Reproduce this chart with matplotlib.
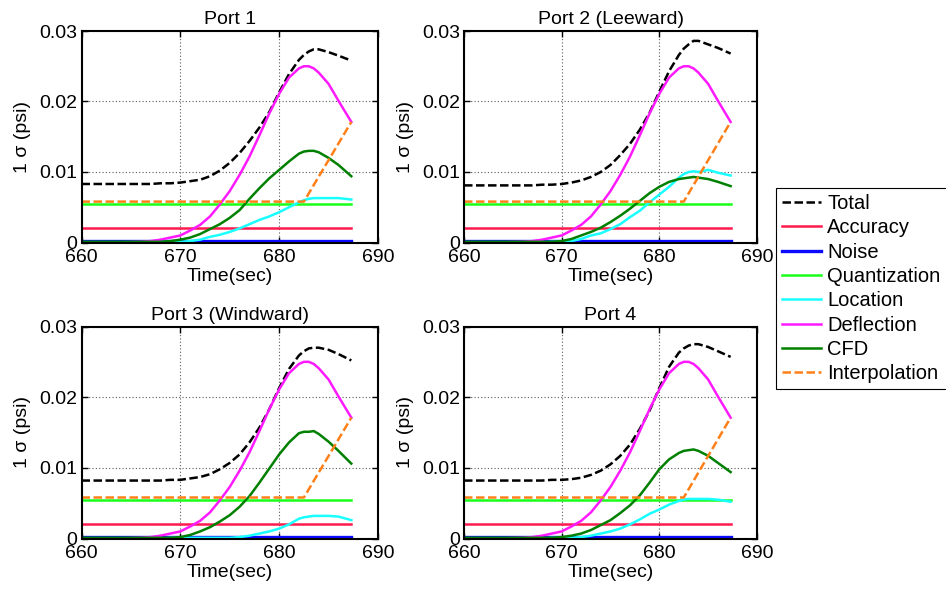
#!/usr/bin/env python3
"""
1-sigma pressure uncertainty budget for four ports, 660-690 s.
"""

import matplotlib
matplotlib.use("Agg")
import matplotlib.pyplot as plt

# ============== DATA ==============
TIME = [660, 662, 664, 666, 667, 668, 669, 670, 671, 672, 673, 674, 675, 676,
        677, 678, 679, 680, 681, 682, 682.5, 683, 683.5, 684, 685, 686, 687.3]

DEFLECTION = [0.0, 0.0, 0.00003, 0.0001, 0.0002, 0.0004, 0.0007, 0.0010, 0.0017, 0.0025,
              0.0037, 0.0054, 0.0073, 0.0096, 0.0122, 0.0152, 0.0183, 0.0211, 0.0234,
              0.0247, 0.0250, 0.0250, 0.0247, 0.0241, 0.0225, 0.0201, 0.0171]

TOTAL_1 = [0.0083, 0.0083, 0.0083, 0.0083, 0.0083, 0.0084, 0.0084, 0.0085, 0.0087, 0.0089,
           0.0094, 0.0102, 0.0113, 0.0127, 0.0144, 0.0163, 0.0185, 0.0213, 0.0239,
           0.0259, 0.0266, 0.0271, 0.0274, 0.0274, 0.0270, 0.0265, 0.0258]
TOTAL_2 = [0.0081, 0.0081, 0.0081, 0.0081, 0.0081, 0.0082, 0.0082, 0.0083, 0.0085, 0.0088,
           0.0093, 0.0100, 0.0110, 0.0124, 0.0140, 0.0160, 0.0184, 0.0214, 0.0243,
           0.0266, 0.0275, 0.0281, 0.0286, 0.0286, 0.0281, 0.0276, 0.0268]
TOTAL_3 = [0.0082, 0.0082, 0.0082, 0.0082, 0.0082, 0.0082, 0.0083, 0.0083, 0.0085, 0.0087,
           0.0091, 0.0098, 0.0107, 0.0119, 0.0136, 0.0157, 0.0183, 0.0213, 0.0240,
           0.0259, 0.0265, 0.0269, 0.0270, 0.0270, 0.0267, 0.0261, 0.0252]
TOTAL_4 = [0.0082, 0.0082, 0.0082, 0.0082, 0.0082, 0.0082, 0.0083, 0.0083, 0.0084, 0.0086,
           0.0090, 0.0096, 0.0105, 0.0117, 0.0133, 0.0155, 0.0181, 0.0213, 0.0243,
           0.0263, 0.0269, 0.0273, 0.0275, 0.0275, 0.0271, 0.0265, 0.0257]

CFD_1 = [0.0001, 0.0001, 0.0001, 0.0001, 0.0001, 0.0001, 0.0002, 0.0004, 0.0007, 0.0012,
         0.0019, 0.0026, 0.0035, 0.0046, 0.0062, 0.0077, 0.0091, 0.0103, 0.0115,
         0.0126, 0.0129, 0.0130, 0.0130, 0.0128, 0.0120, 0.0110, 0.0094]
CFD_2 = [0.0001, 0.0001, 0.0001, 0.0001, 0.0001, 0.0001, 0.0001, 0.0002, 0.0005, 0.0010,
         0.0015, 0.0021, 0.0029, 0.0038, 0.0048, 0.0059, 0.0070, 0.0079, 0.0086,
         0.0090, 0.0091, 0.0092, 0.0093, 0.0092, 0.0090, 0.0086, 0.0080]
CFD_3 = [0.0001, 0.0001, 0.0001, 0.0001, 0.0001, 0.0001, 0.0001, 0.0002, 0.0005, 0.0010,
         0.0016, 0.0024, 0.0033, 0.0045, 0.0060, 0.0079, 0.0099, 0.0119, 0.0136,
         0.0149, 0.0151, 0.0151, 0.0152, 0.0148, 0.0137, 0.0124, 0.0106]
CFD_4 = [0.0001, 0.0001, 0.0001, 0.0001, 0.0001, 0.0001, 0.0001, 0.0002, 0.0004, 0.0007,
         0.0012, 0.0019, 0.0026, 0.0036, 0.0047, 0.0061, 0.0079, 0.0098, 0.0112,
         0.0121, 0.0124, 0.0125, 0.0126, 0.0124, 0.0117, 0.0107, 0.0094]

LOCATION_1 = [0.0, 0.0, 0.0, 0.0, 0.0, 0.0001, 0.0001, 0.0001, 0.0002, 0.0004,
              0.0008, 0.0011, 0.0015, 0.0020, 0.0026, 0.0032, 0.0037, 0.0043, 0.0050,
              0.0057, 0.0060, 0.0062, 0.0063, 0.0063, 0.0063, 0.0063, 0.0061]
LOCATION_2 = [0.0, 0.0, 0.0, 0.0, 0.0, 0.0, 0.0001, 0.0001, 0.0002, 0.0005,
              0.0010, 0.0013, 0.0019, 0.0026, 0.0036, 0.0045, 0.0057, 0.0068, 0.0079,
              0.0092, 0.0097, 0.0100, 0.0101, 0.0100, 0.0103, 0.0099, 0.0095]
LOCATION_3 = [0.0, 0.0, 0.0, 0.0, 0.0, 0.0, 0.0001, 0.0001, 0.0001, 0.0001,
              0.0001, 0.0001, 0.0001, 0.0002, 0.0004, 0.0007, 0.0010, 0.0014, 0.0020,
              0.0028, 0.0030, 0.0031, 0.0032, 0.0032, 0.0032, 0.0031, 0.0026]
LOCATION_4 = [0.0, 0.0, 0.0, 0.0, 0.0, 0.0, 0.0001, 0.0001, 0.0001, 0.0002,
              0.0004, 0.0007, 0.0010, 0.0014, 0.0020, 0.0027, 0.0035, 0.0041, 0.0048,
              0.0053, 0.0055, 0.0056, 0.0056, 0.0056, 0.0056, 0.0055, 0.0052]

# constant terms (same for every port)
CONST_TIME = [660, 687.3]
ACCURACY = [0.002, 0.002]
NOISE = [0.0002, 0.0002]
QUANTIZATION = [0.0055, 0.0055]

INTERP_TIME = [660, 682.5, 687.3]
INTERPOLATION = [0.0058, 0.0058, 0.0171]

TITLES = ["Port 1", "Port 2 (Leeward)", "Port 3 (Windward)", "Port 4"]
TOTALS = [TOTAL_1, TOTAL_2, TOTAL_3, TOTAL_4]
CFDS = [CFD_1, CFD_2, CFD_3, CFD_4]
LOCATIONS = [LOCATION_1, LOCATION_2, LOCATION_3, LOCATION_4]

LABELS = ["Total", "Accuracy", "Noise", "Quantization", "Location",
          "Deflection", "CFD", "Interpolation"]
X_TICKS = [660, 670, 680, 690]
Y_TICKS = [0, 0.01, 0.02, 0.03]
Y_TICKLABELS = ["0", "0.01", "0.02", "0.03"]

# ============== STYLE ==============
plt.rcParams['font.family'] = ['Liberation Sans', 'DejaVu Sans']
FS = 14
FS_LEG = 14.5
LW = 1.8
DASH = (3.4, 1.4)

C_TOTAL = 'black'
C_ACC = '#ff1a4d'
C_NOISE = '#0a0aff'
C_QUANT = '#1aff1a'
C_LOC = '#1affff'
C_DEFL = '#ff1aff'
C_CFD = '#008000'
C_INTERP = '#ff8019'

W, H = 946, 591
# axes boxes in pixels: left, top, right, bottom
AX_PX = [(81.5, 31, 378, 242.5), (464, 31, 757, 242.5),
         (81.5, 326.5, 378, 538.5), (464, 326.5, 757, 538.5)]


def draw_panel(ax, title, total, cfd, location):
    """One port: all error terms vs time."""
    handles = []
    h, = ax.plot(TIME, total, color=C_TOTAL, lw=LW, dashes=DASH)
    handles.append(h)
    h, = ax.plot(CONST_TIME, ACCURACY, color=C_ACC, lw=LW)
    handles.append(h)
    h, = ax.plot(CONST_TIME, NOISE, color=C_NOISE, lw=LW + 0.6)
    handles.append(h)
    h, = ax.plot(CONST_TIME, QUANTIZATION, color=C_QUANT, lw=LW)
    handles.append(h)
    h, = ax.plot(TIME, location, color=C_LOC, lw=LW)
    handles.append(h)
    h, = ax.plot(TIME, DEFLECTION, color=C_DEFL, lw=LW)
    handles.append(h)
    h, = ax.plot(TIME, cfd, color=C_CFD, lw=LW)
    handles.append(h)
    h, = ax.plot(INTERP_TIME, INTERPOLATION, color=C_INTERP, lw=LW, dashes=DASH)
    handles.append(h)

    ax.set_xlim(660, 690)
    ax.set_ylim(0, 0.03)
    ax.set_xticks(X_TICKS)
    ax.set_xticklabels([str(t) for t in X_TICKS])
    ax.set_yticks(Y_TICKS)
    ax.set_yticklabels(Y_TICKLABELS)
    ax.tick_params(direction='in', length=4, width=1.0, top=True, right=True,
                   labelsize=FS)
    ax.tick_params(axis='x', pad=5)
    ax.tick_params(axis='y', pad=3)
    ax.grid(True, color='0.35', linestyle=(0, (1, 2)), linewidth=0.8)
    for sp in ax.spines.values():
        sp.set_linewidth(1.5)
    ax.set_title(title, fontsize=FS, pad=5)
    ax.set_xlabel('Time(sec)', fontsize=FS, labelpad=1)
    ax.set_ylabel('1 σ (psi)', fontsize=FS, labelpad=6)
    return handles


if __name__ == "__main__":
    fig = plt.figure(figsize=(W / 100, H / 100), dpi=100)

    handles = None
    for i, (l, t, r, b) in enumerate(AX_PX):
        ax = fig.add_axes([l / W, 1 - b / H, (r - l) / W, (b - t) / H])
        hs = draw_panel(ax, TITLES[i], TOTALS[i], CFDS[i], LOCATIONS[i])
        if handles is None:
            handles = hs

    leg = fig.legend(handles, LABELS, loc='upper left',
                     bbox_to_anchor=(776 / W, 1 - 188 / H),
                     bbox_transform=fig.transFigure, borderaxespad=0,
                     fontsize=FS_LEG, handlelength=1.95, handletextpad=0.3,
                     labelspacing=0.265, borderpad=0.3, fancybox=False,
                     framealpha=1)
    leg.get_frame().set_edgecolor('black')
    leg.get_frame().set_linewidth(0.8)

    fig.savefig("out.png", dpi=100)
    plt.close(fig)
